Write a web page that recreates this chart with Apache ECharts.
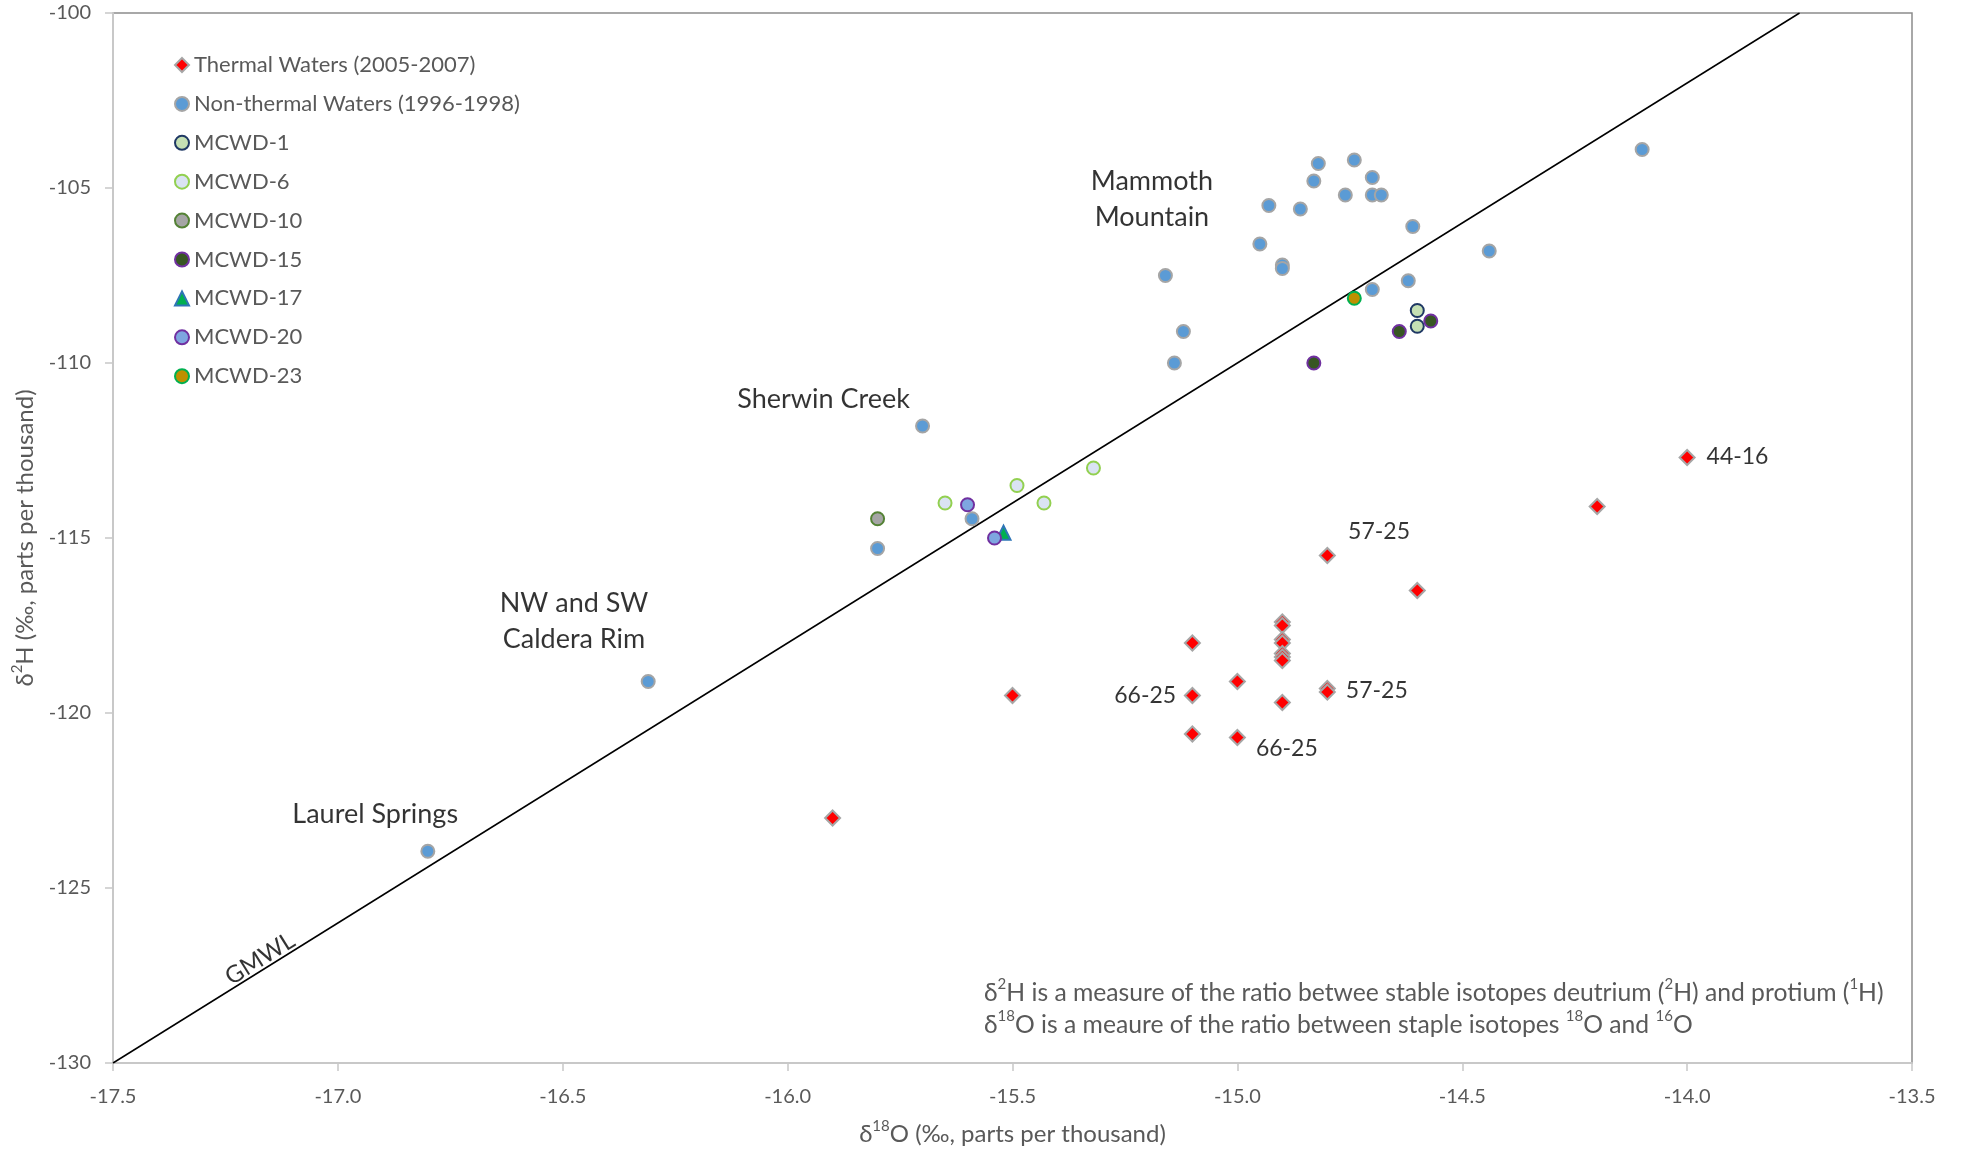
<!DOCTYPE html>
<html>
<head>
<meta charset="utf-8">
<title>Stable isotopes – Mammoth Lakes waters</title>
<script src="https://cdn.jsdelivr.net/npm/echarts@6/dist/echarts.min.js"></script>
<style>
  html, body { margin: 0; padding: 0; background: #fff; }
  #chart { width: 1961px; height: 1151px; }
</style>
</head>
<body>
<div id="chart"></div>
<script>
// δ18O / δ2H pairs (‰)
const thermal = [
  [-15.9, -123.0], [-15.5, -119.5], [-15.1, -118.0], [-15.1, -119.5], [-15.1, -120.6],
  [-15.0, -119.1], [-15.0, -120.7],
  [-14.9, -117.4], [-14.9, -117.5], [-14.9, -117.9], [-14.9, -118.0], [-14.9, -118.3],
  [-14.9, -118.4], [-14.9, -118.5], [-14.9, -119.7],
  [-14.8, -115.5], [-14.8, -119.3], [-14.8, -119.4],
  [-14.6, -116.5], [-14.2, -114.1], [-14.0, -112.7]
];
const nonThermal = [
  [-14.10, -103.9], [-14.82, -104.3], [-14.74, -104.2], [-14.83, -104.8], [-14.70, -104.7],
  [-14.76, -105.2], [-14.70, -105.2], [-14.68, -105.2], [-14.93, -105.5], [-14.86, -105.6],
  [-14.61, -106.1], [-14.95, -106.6], [-14.44, -106.8], [-14.90, -107.2], [-14.90, -107.3],
  [-15.16, -107.5], [-14.62, -107.65], [-14.70, -107.9], [-15.12, -109.1], [-15.14, -110.0],
  [-15.70, -111.8], [-15.59, -114.45], [-15.80, -115.3], [-16.31, -119.1], [-16.80, -123.95]
];
const mcwd1  = [[-14.60, -108.5], [-14.60, -108.95]];
const mcwd6  = [[-15.65, -114.0], [-15.49, -113.5], [-15.43, -114.0], [-15.32, -113.0]];
const mcwd10 = [[-15.80, -114.45]];
const mcwd15 = [[-14.83, -110.0], [-14.64, -109.1], [-14.57, -108.8]];
const mcwd17 = [[-15.52, -114.85]];
const mcwd20 = [[-15.60, -114.05], [-15.54, -115.0]];
const mcwd23 = [[-14.74, -108.15]];

// Global Meteoric Water Line end points
const gmwl = [[-17.5, -130], [-13.75, -100]];

// Area names and well ids, placed in data units
const areaNames = [
  { name: 'Mammoth\nMountain', value: [-15.19, -105.32] },
  { name: 'Sherwin Creek', value: [-15.92, -111.03] },
  { name: 'NW and SW\nCaldera Rim', value: [-16.475, -117.37] },
  { name: 'Laurel Springs', value: [-16.917, -122.9] }
];
const wellIds = [
  { name: '44-16', value: [-13.888, -112.67] },
  { name: '57-25', value: [-14.685, -114.82] },
  { name: '57-25', value: [-14.69, -119.35] },
  { name: '66-25', value: [-15.205, -119.5] },
  { name: '66-25', value: [-14.89, -121.02] }
];
const lineName = { name: 'GMWL', value: [-17.173, -127.02] };

const xTicks = { min: -17.5, max: -13.5, step: 0.5 };
const yTicks = { min: -130, max: -100, step: 5 };

const FONT = 'Lato, "Open Sans", sans-serif';
const GREY = '#595959';

function pointSeries(name, data, symbol, size, fill, stroke, bw) {
  return {
    name: name,
    type: 'scatter',
    data: data,
    symbol: symbol,
    symbolSize: size,
    itemStyle: { color: fill, borderColor: stroke, borderWidth: bw, opacity: 1 },
    emphasis: { disabled: true },
    z: 3
  };
}

const subRich = {
  t: { fontFamily: FONT, fontSize: 24, color: GREY, lineHeight: 30 },
  s: { fontFamily: FONT, fontSize: 15, color: GREY, lineHeight: 23, verticalAlign: 'top' }
};

const chart = echarts.init(document.getElementById('chart'), null, { renderer: 'canvas' });

chart.setOption({
  backgroundColor: '#ffffff',
  animation: false,
  textStyle: { fontFamily: FONT },
  grid: {
    left: 113, top: 13, right: 49, bottom: 87,
    show: true, borderColor: '#8c8c8c', borderWidth: 1.5, backgroundColor: 'transparent'
  },
  legend: {
    orient: 'vertical',
    left: 169, top: 49,
    itemWidth: 14, itemHeight: 14, itemGap: 16.9,
    textStyle: { fontFamily: FONT, fontSize: 22, color: GREY, lineHeight: 21 },
    data: ['Thermal Waters (2005-2007)', 'Non-thermal Waters (1996-1998)', 'MCWD-1', 'MCWD-6',
           'MCWD-10', 'MCWD-15', 'MCWD-17', 'MCWD-20', 'MCWD-23']
  },
  xAxis: {
    type: 'value',
    min: xTicks.min, max: xTicks.max, interval: xTicks.step,
    axisLine: { show: true, onZero: false, lineStyle: { color: '#c8c8c8', width: 2 } },
    axisTick: { show: true, inside: false, length: 8, lineStyle: { color: '#c8c8c8', width: 1.5 } },
    splitLine: { show: false },
    axisLabel: { fontFamily: FONT, fontSize: 20, color: GREY, margin: 24,
                 formatter: v => v.toFixed(1) },
    name: '{t|δ}{s|18}{t|O (‰, parts per thousand)}',
    nameLocation: 'middle', nameGap: 56,
    nameTextStyle: { rich: subRich }
  },
  yAxis: {
    type: 'value',
    min: yTicks.min, max: yTicks.max, interval: yTicks.step,
    axisLine: { show: true, onZero: false, lineStyle: { color: '#c8c8c8', width: 2 } },
    axisTick: { show: true, inside: false, length: 8, lineStyle: { color: '#c8c8c8', width: 1.5 } },
    splitLine: { show: false },
    axisLabel: { fontFamily: FONT, fontSize: 20, color: GREY, margin: 22 },
    name: '{t|δ}{s|2}{t|H (‰, parts per thousand)}',
    nameLocation: 'middle', nameGap: 73, nameRotate: 90,
    nameTextStyle: { rich: subRich }
  },
  series: [
    {
      name: 'GMWL',
      type: 'line',
      data: gmwl,
      symbol: 'none',
      lineStyle: { color: '#000000', width: 1.5 },
      silent: true,
      z: 2
    },
    pointSeries('Thermal Waters (2005-2007)', thermal, 'diamond', 15, '#ff0000', '#a6a6a6', 2),
    pointSeries('Non-thermal Waters (1996-1998)', nonThermal, 'circle', 13, '#5b9bd5', '#a5a5a5', 2),
    pointSeries('MCWD-1', mcwd1, 'circle', 13, '#c5e0b4', '#1f3864', 2),
    pointSeries('MCWD-6', mcwd6, 'circle', 13, '#dae3f3', '#92d050', 2),
    pointSeries('MCWD-10', mcwd10, 'circle', 13, '#a5a5a5', '#548235', 2),
    pointSeries('MCWD-15', mcwd15, 'circle', 13, '#375623', '#7030a0', 2),
    pointSeries('MCWD-17', mcwd17, 'triangle', 14, '#00b050', '#2e75b6', 2),
    pointSeries('MCWD-20', mcwd20, 'circle', 13, '#7ea6e0', '#7030a0', 2),
    pointSeries('MCWD-23', mcwd23, 'circle', 13, '#bf9000', '#00b050', 2),
    {
      name: 'areas',
      type: 'scatter',
      data: areaNames,
      symbolSize: 0,
      silent: true,
      z: 4,
      label: {
        show: true, position: 'inside', formatter: p => p.name,
        fontFamily: FONT, fontSize: 27, color: '#000000', lineHeight: 36, align: 'center'
      }
    },
    {
      name: 'wells',
      type: 'scatter',
      data: wellIds,
      symbolSize: 0,
      silent: true,
      z: 4,
      label: {
        show: true, position: 'inside', formatter: p => p.name,
        fontFamily: FONT, fontSize: 23, color: '#000000'
      }
    },
    {
      name: 'lineLabel',
      type: 'scatter',
      data: [lineName],
      symbolSize: 0,
      silent: true,
      z: 4,
      label: {
        show: true, position: 'inside', formatter: p => p.name, rotate: 32,
        fontFamily: FONT, fontSize: 24, color: '#000000'
      }
    }
  ],
  graphic: [
    {
      type: 'text',
      left: 984, top: 977,
      silent: true,
      style: {
        text: '{t|δ}{s|2}{t|H is a measure of the ratio betwee stable isotopes deutrium (}{s|2}{t|H) and protium (}{s|1}{t|H)}\n' +
              '{t|δ}{s|18}{t|O is a meaure of the ratio between staple isotopes }{s|18}{t|O and }{s|16}{t|O}',
        rich: {
          t: { fontFamily: FONT, fontSize: 24.7, fill: GREY, lineHeight: 32 },
          s: { fontFamily: FONT, fontSize: 15, fill: GREY, lineHeight: 24, verticalAlign: 'top' }
        }
      }
    }
  ]
});
</script>
</body>
</html>
